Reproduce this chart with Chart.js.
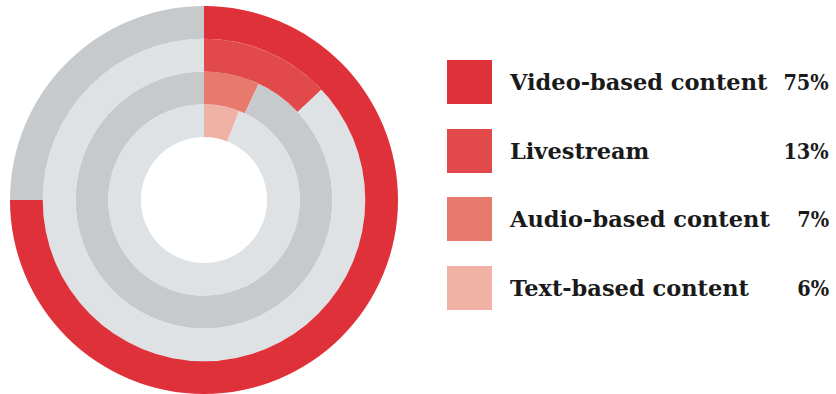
<!DOCTYPE html>
<html>
<head>
<meta charset="utf-8">
<script src="https://cdn.jsdelivr.net/npm/chart.js@4"></script>
<style>
  html, body { margin: 0; padding: 0; background: #fff; }
  body { width: 836px; height: 394px; position: relative; overflow: hidden; }
  #ringChart { position: absolute; left: 10px; top: 6px; }
  #legend { position: absolute; left: 447px; top: 60px; width: 382px; }
  .row { position: relative; height: 44px; margin-bottom: 24.5px; }
  .swatch { position: absolute; left: 0; top: 0; width: 45px; height: 44px; }
  .name, .pct {
    position: absolute; top: 7px; line-height: 30px;
    font-family: "DejaVu Serif", serif; font-weight: bold; font-size: 22.5px;
    color: #1a1a1a; white-space: nowrap;
  }
  .name { left: 63px; }
  .pct { right: 0; transform: scaleX(0.86); transform-origin: right center; }
</style>
</head>
<body>
<canvas id="ringChart" width="388" height="388"></canvas>
<div id="legend"></div>
<script>
const categories = ["Video-based content", "Livestream", "Audio-based content", "Text-based content"];
const shares = [75, 13, 7, 6];
const colors = ["#df3139", "#e1494b", "#e77a6c", "#f1b2a6"];
const trackColors = ["#c7cacd", "#dfe2e5", "#c7cacd", "#dfe2e5"];

// one ring per category, outermost first
const datasets = categories.map((name, i) => ({
  label: name,
  data: [shares[i], 100 - shares[i]],
  backgroundColor: [colors[i], trackColors[i]],
  borderWidth: 0
}));

new Chart(document.getElementById("ringChart").getContext("2d"), {
  type: "doughnut",
  data: { labels: ["share", "rest"], datasets: datasets },
  options: {
    responsive: false,
    animation: false,
    cutout: "32.5%",
    layout: { padding: 0 },
    plugins: { legend: { display: false }, tooltip: { enabled: false } }
  }
});

const legend = document.getElementById("legend");
categories.forEach((name, i) => {
  const row = document.createElement("div");
  row.className = "row";
  row.innerHTML =
    '<div class="swatch" style="background:' + colors[i] + '"></div>' +
    '<span class="name">' + name + '</span>' +
    '<span class="pct">' + shares[i] + '%</span>';
  legend.appendChild(row);
});
</script>
</body>
</html>
